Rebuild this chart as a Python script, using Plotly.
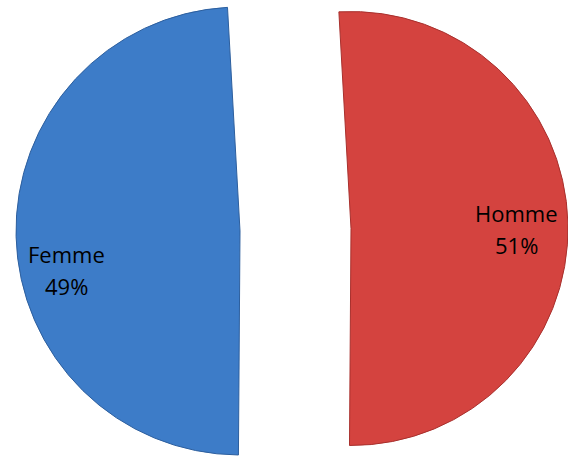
import plotly.graph_objects as go

# ---- data ----
labels = ["Homme", "Femme"]
values = [51, 49]
colors = ["#d4433f", "#3d7cc8"]
edge_colors = ["#a8302d", "#2d5f9e"]

W, H = 568, 459
rotation = -3.2
# per-slice pie geometry in pixels: (center x from left, center y from top, radius)
geom = {"Homme": (351.0, 228.5, 217.0), "Femme": (240.0, 231.0, 224.0)}
# text placement in pixels: (center x, label center y, percent center y)
label_pos = {"Homme": (516, 213, 245), "Femme": (66.5, 254, 286)}

total = sum(values)
fig = go.Figure()

for i, lab in enumerate(labels):
    cx, cy, r = geom[lab]
    cols = ["rgba(0,0,0,0)"] * len(labels)
    cols[i] = colors[i]
    lcols = ["rgba(0,0,0,0)"] * len(labels)
    lcols[i] = edge_colors[i]
    lw = [0] * len(labels)
    lw[i] = 1
    fig.add_trace(go.Pie(
        labels=labels,
        values=values,
        sort=False,
        direction="clockwise",
        rotation=rotation,
        marker=dict(colors=cols, line=dict(color=lcols, width=lw)),
        textinfo="none",
        hoverinfo="skip",
        showlegend=False,
        domain=dict(
            x=[max(0.0, (cx - r) / W), min(1.0, (cx + r) / W)],
            y=[max(0.0, (H - cy - r) / H), min(1.0, (H - cy + r) / H)],
        ),
    ))

annotations = []
font = dict(family="Open Sans", size=22, color="#000000")
for lab, v in zip(labels, values):
    px, ly, py = label_pos[lab]
    pct = round(100 * v / total)
    for txt, yy in ((lab, ly), (f"{pct}%", py)):
        annotations.append(dict(
            x=px / W, y=1 - yy / H, xref="paper", yref="paper",
            text=txt, showarrow=False, font=font,
            xanchor="center", yanchor="middle", align="center",
        ))

fig.update_layout(
    width=W, height=H,
    margin=dict(l=0, r=0, t=0, b=0),
    paper_bgcolor="white",
    plot_bgcolor="white",
    annotations=annotations,
)

fig.write_html("out.html", config={"displayModeBar": False},
               post_script="document.body.style.margin='0';")
